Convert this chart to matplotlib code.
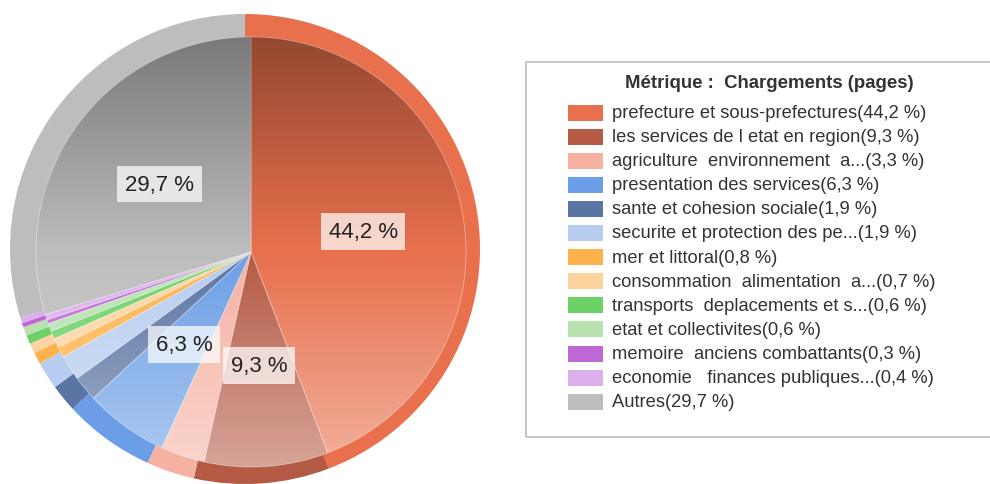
import numpy as np
import matplotlib.pyplot as plt
from matplotlib.patches import Rectangle, Circle

# Données du graphique
labels = ["prefecture et sous-prefectures", "les services de l etat en region",
          "agriculture  environnement  a...", "presentation des services",
          "sante et cohesion sociale", "securite et protection des pe...",
          "mer et littoral", "consommation  alimentation  a...",
          "transports  deplacements et s...", "etat et collectivites",
          "memoire  anciens combattants", "economie   finances publiques...",
          "Autres"]
values = [44.2, 9.3, 3.3, 6.3, 1.9, 1.9, 0.8, 0.7, 0.6, 0.6, 0.3, 0.4, 29.7]
colors = ["#E8704D", "#B55A45", "#F5B2A3", "#6B9EE6", "#5A74A4", "#B7CDEF",
          "#FDB24C", "#FDD3A0", "#6CD166", "#B7E2B0", "#BE68D6", "#DCAFED",
          "#BDBDBD"]
title = "Métrique :  Chargements (pages)"

plt.rcParams['font.family'] = ['Liberation Sans', 'DejaVu Sans']


def pct(v):
    return f"{v:.1f} %".replace('.', ',')


fig = plt.figure(figsize=(9.9, 4.85), dpi=100)
ax = fig.add_axes([0, 0, 1, 1])

cx, cy, R = 245, 485 - 250, 235
icx, icy, r = 251, 485 - 253, 215

# anneau extérieur (couleur pleine)
ax.pie(values, colors=colors, center=(cx, cy), radius=R, startangle=90,
       counterclock=False, wedgeprops=dict(linewidth=0), frame=True)

# partie intérieure avec dégradé
ax.pie(values, colors=colors, center=(icx, icy), radius=r,
       startangle=90, counterclock=False,
       wedgeprops=dict(linewidth=0.6, edgecolor=(1, 1, 1, 0.45)), frame=True)
t = np.linspace(0, 1, 256)
grad = np.zeros((256, 2, 4))
grad[:, :, :3] = np.where(t < 0.5, 0.0, 1.0)[:, None, None]
grad[:, :, 3] = (np.abs(t - 0.5) * 2 * np.where(t < 0.5, 0.36, 0.45))[:, None]
clip = Circle((icx, icy), r, transform=ax.transData)
im = ax.imshow(grad, extent=(icx - r, icx + r, icy - r, icy + r), origin='upper',
               aspect='auto', zorder=3)
im.set_clip_path(clip)
ax.set_xlim(0, 990)
ax.set_ylim(0, 485)
ax.set_aspect('equal')
ax.axis('off')

# étiquettes des grandes parts
cum = np.cumsum(values) - np.array(values) / 2
for v, c in zip(values, cum):
    if v < 5:
        continue
    ang = np.deg2rad(90 - c / 100 * 360)
    x = icx + 0.53 * r * np.cos(ang)
    y = icy + 0.53 * r * np.sin(ang)
    ax.text(x, y, pct(v), ha='center', va='center',
            fontsize=16, color='#222222', zorder=5,
            bbox=dict(boxstyle='square,pad=0.35', fc=(1, 1, 1, 0.72), ec='none'))

# légende
ax.add_patch(Rectangle((526, 485 - 438), 470, 375, fill=False, ec='#bbbbbb', lw=1.2, zorder=5))
ax.text(769, 485 - 84, title, ha='center', va='center', fontsize=13.4,
        fontweight='bold', color='#333333', zorder=6)
for i, (lab, v, col) in enumerate(zip(labels, values, colors)):
    y = 485 - (113.5 + i * 24.1)
    ax.add_patch(Rectangle((568, y - 8), 35, 16, fc=col, ec='none', zorder=6))
    ax.text(612, y, f"{lab}({pct(v)})", ha='left', va='center',
            fontsize=13.2, color='#333333', zorder=6)

fig.savefig("out.png", dpi=100)
